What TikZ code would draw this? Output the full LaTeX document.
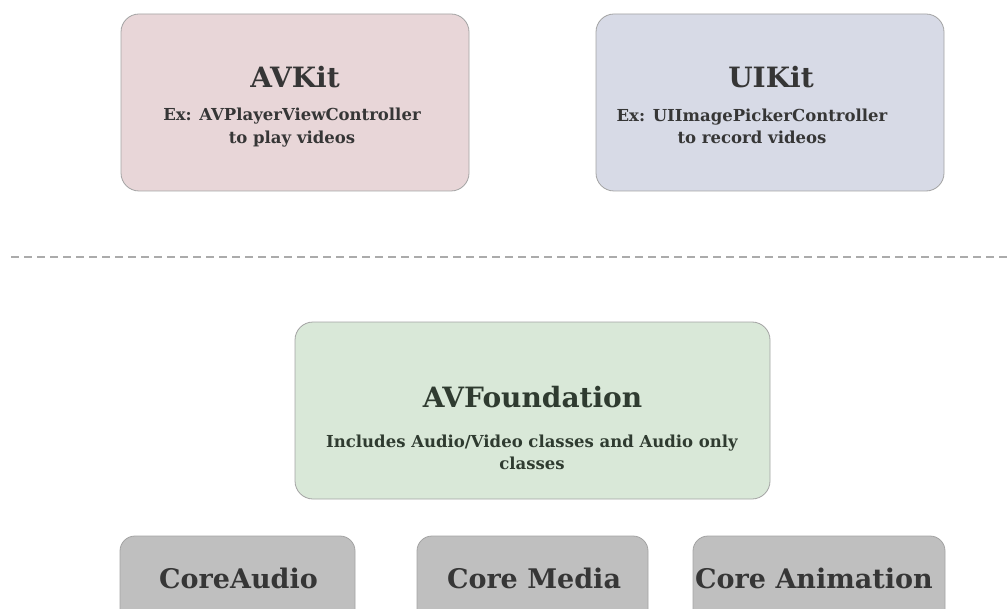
\documentclass[tikz,border=0pt]{standalone}
\usepackage{fontspec}
\setmainfont{DejaVu Serif}
\begin{document}
\begin{tikzpicture}[x=1pt,y=-1pt]
\definecolor{pinkbg}{HTML}{E8D6D8}
\definecolor{bluebg}{HTML}{D7DAE6}
\definecolor{greenbg}{HTML}{D9E8D8}
\definecolor{graybg}{HTML}{BFBFBF}
\definecolor{edge}{HTML}{A3A3A3}
\definecolor{ink}{HTML}{363636}
\definecolor{greenink}{HTML}{2F3B30}
\definecolor{dashc}{HTML}{ABABAB}
\tikzset{
  box/.style={draw=edge, line width=0.8pt, rounded corners=18pt, inner sep=0pt},
  smallbox/.style={draw=edge, line width=0.8pt, rounded corners=15pt, inner sep=0pt, fill=graybg},
  title/.style={font=\fontsize{28}{32}\selectfont\bfseries, text=ink, inner sep=0pt},
  sub/.style={font=\fontsize{16.5}{22.5}\selectfont\bfseries, text=ink, align=center, inner sep=0pt},
  coretext/.style={font=\fontsize{27}{30}\selectfont\bfseries, text=ink, inner sep=0pt},
}
\useasboundingbox (0,0) rectangle (1008,609);
\clip (0,0) rectangle (1008,609);
% top boxes
\node[box, fill=pinkbg, minimum width=348pt, minimum height=177pt] (avkit) at (295,102.5) {};
\node[title] (avkitT) at (295,77) {AVKit};
\node[sub] (avkitS) at (292,127.5) {Ex: AVPlayerViewController\\to play videos};
\node[box, fill=bluebg, minimum width=348pt, minimum height=177pt] (uikit) at (770,102.5) {};
\node[title] (uikitT) at (771,77) {UIKit};
\node[sub] (uikitS) at (752,126.5) {Ex: UIImagePickerController\\to record videos};
% dashed separator
\coordinate (dl) at (11,257);
\coordinate (dr) at (1012,257);
\draw[dashc, line width=2pt, dash pattern=on 8pt off 5pt] (dl) -- (dr);
% AVFoundation
\node[box, fill=greenbg, minimum width=475pt, minimum height=177pt] (avf) at (532.5,410.5) {};
\node[title, text=greenink] (avfT) at (532.5,397) {AVFoundation};
\node[sub, text=greenink] (avfS) at (532,452.5) {Includes Audio/Video classes and Audio only\\classes};
% bottom boxes
\node[smallbox, minimum width=235pt, minimum height=90pt] (ca) at (237.5,581) {};
\node[coretext] (caT) at (238.5,578) {CoreAudio};
\node[smallbox, minimum width=231pt, minimum height=90pt] (cm) at (532.5,581) {};
\node[coretext] (cmT) at (534,578) {Core Media};
\node[smallbox, minimum width=252pt, minimum height=90pt] (can) at (819,581) {};
\node[coretext] (canT) at (814,578) {Core Animation};
\end{tikzpicture}
\end{document}
